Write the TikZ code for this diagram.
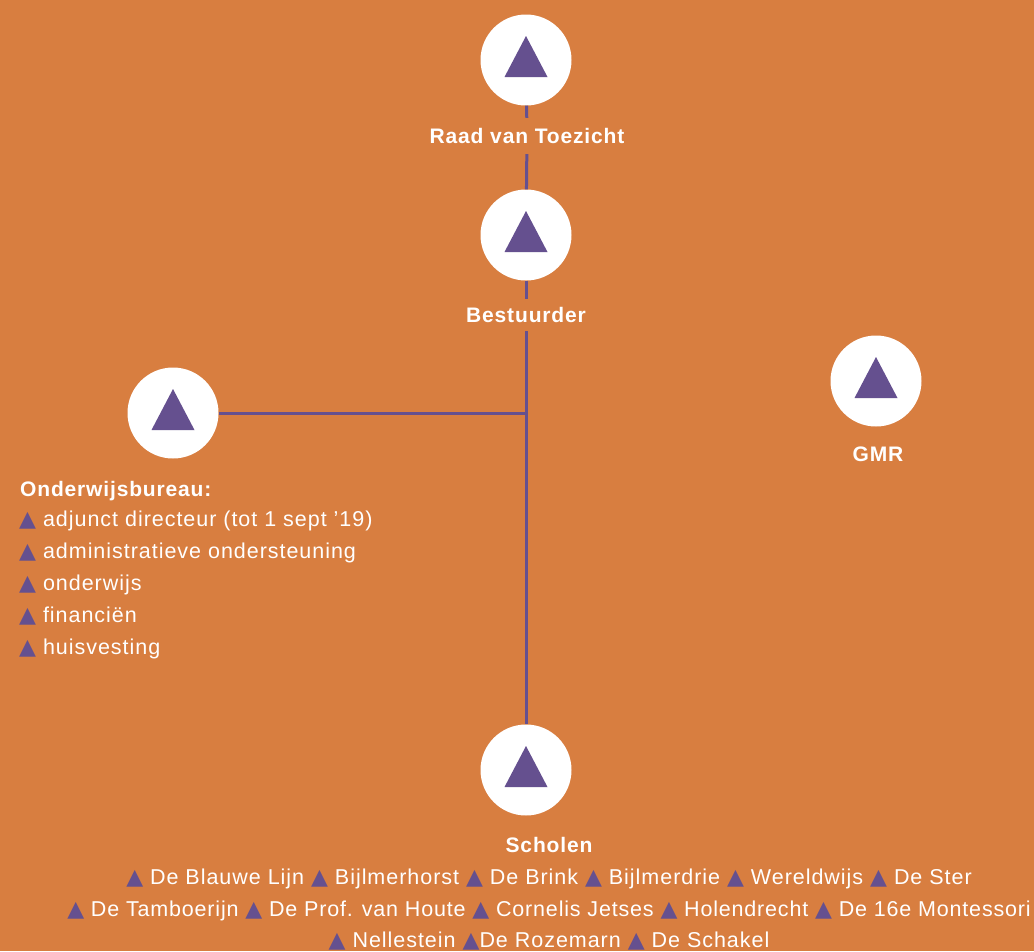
\documentclass[tikz,border=0pt]{standalone}
\usepackage{fontspec}
\setmainfont{Liberation Sans}
\newfontfamily\labfont[LetterSpace=4]{Liberation Sans}
\newfontfamily\listfont[LetterSpace=4.5]{Liberation Sans}
\newfontfamily\tightfont[LetterSpace=3.8]{Liberation Sans}
\newfontfamily\symfont{DejaVu Sans}
\definecolor{bg}{RGB}{216,126,64}
\definecolor{tri}{RGB}{101,80,143}
\newcommand\bul{{\color{tri}\symfont\fontsize{22}{22}\selectfont ▲}}
\tikzset{
  unit/.style={circle, fill=white, minimum size=91pt, inner sep=0pt},
  lbl/.style={text=white, font=\labfont\bfseries\fontsize{21}{25}\selectfont, inner sep=0pt},
  item/.style={text=white, font=\listfont\fontsize{21.5}{25}\selectfont, inner sep=0pt, anchor=base west},
  schoolline/.style={text=white, font=\listfont\fontsize{21.5}{25}\selectfont, inner sep=0pt, anchor=base},
  conn/.style={draw=tri, line width=3pt},
}
\begin{document}
\begin{tikzpicture}[x=1pt, y=-1pt]
  \fill[bg] (0,0) rectangle (1034,951);
  \useasboundingbox (0,0) rectangle (1034,951);

  % organisation units
  \node[unit] (raad)  at (526,60)  {};
  \node[unit] (best)  at (526,235) {};
  \node[unit] (onder) at (173,413) {};
  \node[unit] (gmr)   at (876,381) {};
  \node[unit] (schol) at (526,770) {};
  \foreach \n in {raad,best,onder,gmr,schol}
    \fill[tri] ([shift={(-21.5,17)}]\n.center) -- ([shift={(21.5,17)}]\n.center)
               -- ([shift={(0,-24)}]\n.center) -- cycle;

  % unit names
  \node[lbl, minimum height=36pt] (raadlbl) at (527,136) {Raad van Toezicht};
  \node[lbl, minimum height=32pt] (bestlbl) at (526,315) {Bestuurder};
  \node[lbl] (gmrlbl) at (878,454) {GMR};
  \node[lbl] (schollbl) at (549,845) {Scholen};
  \coordinate (j) at (526,413);

  % reporting lines
  \draw[conn] (raad) -- (raadlbl);
  \draw[conn] (raadlbl) -- (best);
  \draw[conn] (best) -- (bestlbl);
  \draw[conn] (bestlbl) -- (schol);
  \draw[conn] (onder) -- (j);

  % office staff
  \node[lbl, anchor=base west] (oblbl) at (20,496) {Onderwijsbureau:};
  \node[item] (ob1) at (19,526) {\bul\ adjunct directeur (tot 1 sept ’19)};
  \node[item] (ob2) at (19,558) {\bul\ administratieve ondersteuning};
  \node[item] (ob3) at (19,590) {\bul\ onderwijs};
  \node[item] (ob4) at (19,622) {\bul\ financiën};
  \node[item] (ob5) at (19,654) {\bul\ huisvesting};

  % schools
  \node[schoolline] (sl1) at (549,884) {\bul\ De Blauwe Lijn \bul\ Bijlmerhorst \bul\ De Brink \bul\ Bijlmerdrie \bul\ Wereldwijs \bul\ De Ster};
  \node[schoolline, font=\tightfont\fontsize{21.5}{25}\selectfont] (sl2) at (549,916) {\bul\ De Tamboerijn \bul\ De Prof. van Houte \bul\ Cornelis Jetses \bul\ Holendrecht \bul\ De 16e Montessori};
  \node[schoolline] (sl3) at (549,947) {\bul\ Nellestein \bul De Rozemarn \bul\ De Schakel};
\end{tikzpicture}
\end{document}
